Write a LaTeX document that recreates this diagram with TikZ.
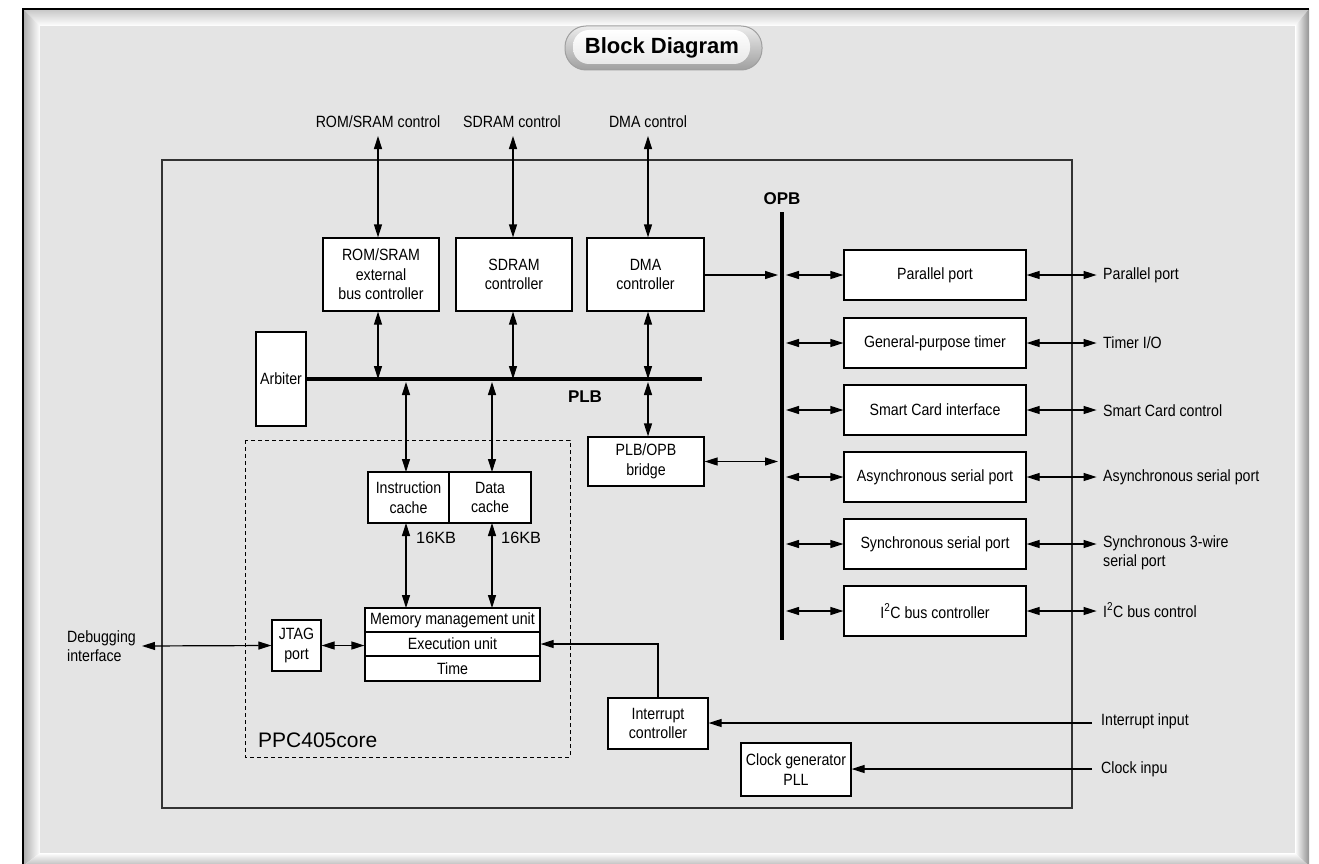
\documentclass[tikz,border=0pt]{standalone}
\usepackage{fontspec}
\setmainfont{Liberation Sans}[FakeStretch=0.87]
\newfontfamily\plainfont{Liberation Sans}
\usetikzlibrary{arrows.meta,calc}
\definecolor{panel}{HTML}{E4E4E4}
\tikzset{
  lbl/.style={font=\fontsize{16.3}{19.5}\selectfont, inner sep=0pt},
  box/.style={draw=black, line width=1.2pt, fill=white, inner sep=0pt, align=center, font=\fontsize{16.3}{19.5}\selectfont},
  buslbl/.style={font=\plainfont\fontsize{17}{20}\selectfont\bfseries, inner sep=0pt},
  conn/.style={line width=1.2pt, draw=black},
  tip/.tip={Triangle[length=13pt,width=8pt]},
  both/.style={conn, tip-tip},
  one/.style={conn, -tip},
  bus/.style={line width=3.8pt, draw=black},
}
\begin{document}
\begin{tikzpicture}[x=1pt,y=-1pt]
\useasboundingbox (0,0) rectangle (1319,864);
\fill[white] (0,0) rectangle (1319,864);
% bevelled frame
\shade[top color=gray!45, bottom color=white] (23,9) -- (1309,9) -- (1295,26) -- (40,26) -- cycle;
\shade[left color=gray!65, right color=white] (23,9) -- (40,26) -- (40,853) -- (23,866) -- cycle;
\shade[left color=white, right color=gray!85] (1309,9) -- (1295,26) -- (1295,853) -- (1309,866) -- cycle;
\shade[top color=white, bottom color=gray!55] (40,853) -- (1295,853) -- (1309,866) -- (23,866) -- cycle;
\fill[panel] (40,26) rectangle (1295,853);
\draw[black, line width=1.5pt] (23,866) -- (23,9) -- (1309,9);
% title pill
\shade[top color=gray!15, bottom color=gray!75, draw=gray!75, line width=1pt, rounded corners=21pt] (565,26) rectangle (762,70);
\shade[top color=white, bottom color=gray!18, rounded corners=16pt] (573,30) rectangle (750,64);
\node[font=\plainfont\fontsize{22}{25}\selectfont\bfseries, inner sep=0pt] (title) at (662,48) {Block Diagram};
% chip outline
\draw[line width=1.2pt, draw=black!80] (162,160) rectangle (1072,808);
% top labels
\node[lbl] (romc) at (378,122) {ROM/SRAM control};
\node[lbl] (sdrc) at (512,122) {SDRAM control};
\node[lbl] (dmac) at (648,122) {DMA control};
\coordinate (romt) at (378,136);
\coordinate (sdrt) at (513,136);
\coordinate (dmat) at (648,136);
% controllers
\node[box, minimum width=116pt, minimum height=73pt] (rom) at (381,274.5) {ROM/SRAM\\external\\bus controller};
\node[box, minimum width=116pt, minimum height=73pt] (sdram) at (514,274.5) {SDRAM\\controller};
\node[box, minimum width=117pt, minimum height=73pt] (dma) at (645.5,274.5) {DMA\\controller};
\node[box, minimum width=50pt, minimum height=94pt] (arb) at (281,379) {Arbiter};
\node[box, minimum width=116pt, minimum height=49pt] (bridge) at (646,461.5) {PLB/OPB\\bridge};
% PLB bus
\coordinate (plbE) at (702,379);
\draw[bus] (arb.east) -- (plbE);
\node[buslbl] (plb) at (585,397) {PLB};
% PPC405 core
\draw[line width=1pt, dash pattern=on 4pt off 3pt] (245,440) rectangle (570,757);
\node[font=\plainfont\fontsize{21}{24}\selectfont, inner sep=0pt, anchor=base west] (core) at (258,747) {PPC405core};
\node[box, minimum width=81pt, minimum height=51pt] (icache) at (408.5,497.5) {Instruction\\cache};
\node[box, minimum width=82pt, minimum height=51pt] (dcache) at (490,497.5) {Data\\cache};
\node[anchor=west, inner sep=0pt, font=\plainfont\fontsize{16.3}{19}\selectfont] (ikb) at (416,538) {16KB};
\node[anchor=west, inner sep=0pt, font=\plainfont\fontsize{16.3}{19}\selectfont] (dkb) at (501,538) {16KB};
\node[box, minimum width=175pt, minimum height=24pt] (mmu) at (452.5,620) {Memory management unit};
\node[box, minimum width=175pt, minimum height=24pt] (exe) at (452.5,644) {Execution unit};
\node[box, minimum width=175pt, minimum height=25pt] (tim) at (452.5,668.5) {Time};
\node[box, minimum width=49pt, minimum height=51pt] (jtag) at (296.5,645.5) {JTAG\\port};
% debugging
\node[lbl, align=left, anchor=west] (dbg) at (67,646) {Debugging\\interface};
\coordinate (dbgE) at (142,646);
% interrupt + clock
\node[box, minimum width=100pt, minimum height=51pt] (intc) at (658,723.5) {Interrupt\\controller};
\node[box, minimum width=110pt, minimum height=53pt] (clk) at (796,769.5) {Clock generator\\PLL};
\node[lbl, anchor=west] (intin) at (1101,721) {Interrupt input};
\node[lbl, anchor=west] (clkin) at (1101,769) {Clock inpu};
\coordinate (intS) at (1092,723);
\coordinate (clkS) at (1092,769);
% OPB bus
\coordinate (opbT) at (782,212);
\coordinate (opbB) at (782,640);
\draw[bus] (opbT) -- (opbB);
\node[buslbl] (opb) at (782,199) {OPB};
% peripherals
\node[box, minimum width=182pt, minimum height=50pt] (par) at (935,275) {Parallel port};
\node[box, minimum width=182pt, minimum height=50pt] (gpt) at (935,343) {General-purpose timer};
\node[box, minimum width=182pt, minimum height=50pt] (scard) at (935,410) {Smart Card interface};
\node[box, minimum width=182pt, minimum height=50pt] (async) at (935,477) {Asynchronous serial port};
\node[box, minimum width=182pt, minimum height=50pt] (sync) at (935,544) {Synchronous serial port};
\node[box, minimum width=182pt, minimum height=50pt] (iic) at (935,611) {I\textsuperscript{2}C bus controller};
% external labels
\node[lbl, anchor=west] (parx) at (1103,275) {Parallel port};
\node[lbl, anchor=west] (gptx) at (1103,343) {Timer I/O};
\node[lbl, anchor=west] (scx) at (1103,411) {Smart Card control};
\node[lbl, anchor=west] (asx) at (1103,477) {Asynchronous serial port};
\node[lbl, anchor=north west, align=left] (syx) at (1103,535) {Synchronous 3-wire\\serial port};
\node[lbl, anchor=west] (iicx) at (1103,610) {I\textsuperscript{2}C bus control};
% connectors: top
\draw[both] (romt) -- (romt |- rom.north);
\draw[both] (sdrt) -- (sdrt |- sdram.north);
\draw[both] (dmat) -- (dmat |- dma.north);
% controllers to PLB
\draw[both] (rom.south -| romt) -- (romt |- plbE);
\draw[both] (sdram.south -| sdrt) -- (sdrt |- plbE);
\draw[both] (dma.south -| dmat) -- (dmat |- plbE);
\draw[both] ($(dmat |- plbE)+(0,3)$) -- (dmat |- bridge.north);
% PLB to caches
\draw[both] (406,382) -- (406,472);
\draw[both] (492,382) -- (492,472);
% caches to core
\draw[both] (406,523) -- (406,608);
\draw[both] (492,523) -- (492,608);
% jtag
\draw[both] (dbgE) -- (jtag.west);
\draw[both] (jtag.east) -- (jtag.east -| exe.west);
% interrupt
\draw[one] (intc.north) |- (exe.east);
\draw[one] (intS) -- (intS -| intc.east);
\draw[one] (clkS) -- (clkS -| clk.east);
% OPB
\draw[one] (dma.east |- par.west) -- ($(opbT |- par.west)+(-4,0)$);
\draw[both] (bridge.east) -- ($(opbT |- bridge.east)+(-4,0)$);
\foreach \n in {par,gpt,scard,async,sync,iic}{
  \draw[both] ($(opbT |- \n.west)+(4,0)$) -- (\n.west);
  \draw[both] (\n.east) -- ($(\n.east)+(70,0)$);
}
\end{tikzpicture}
\end{document}
